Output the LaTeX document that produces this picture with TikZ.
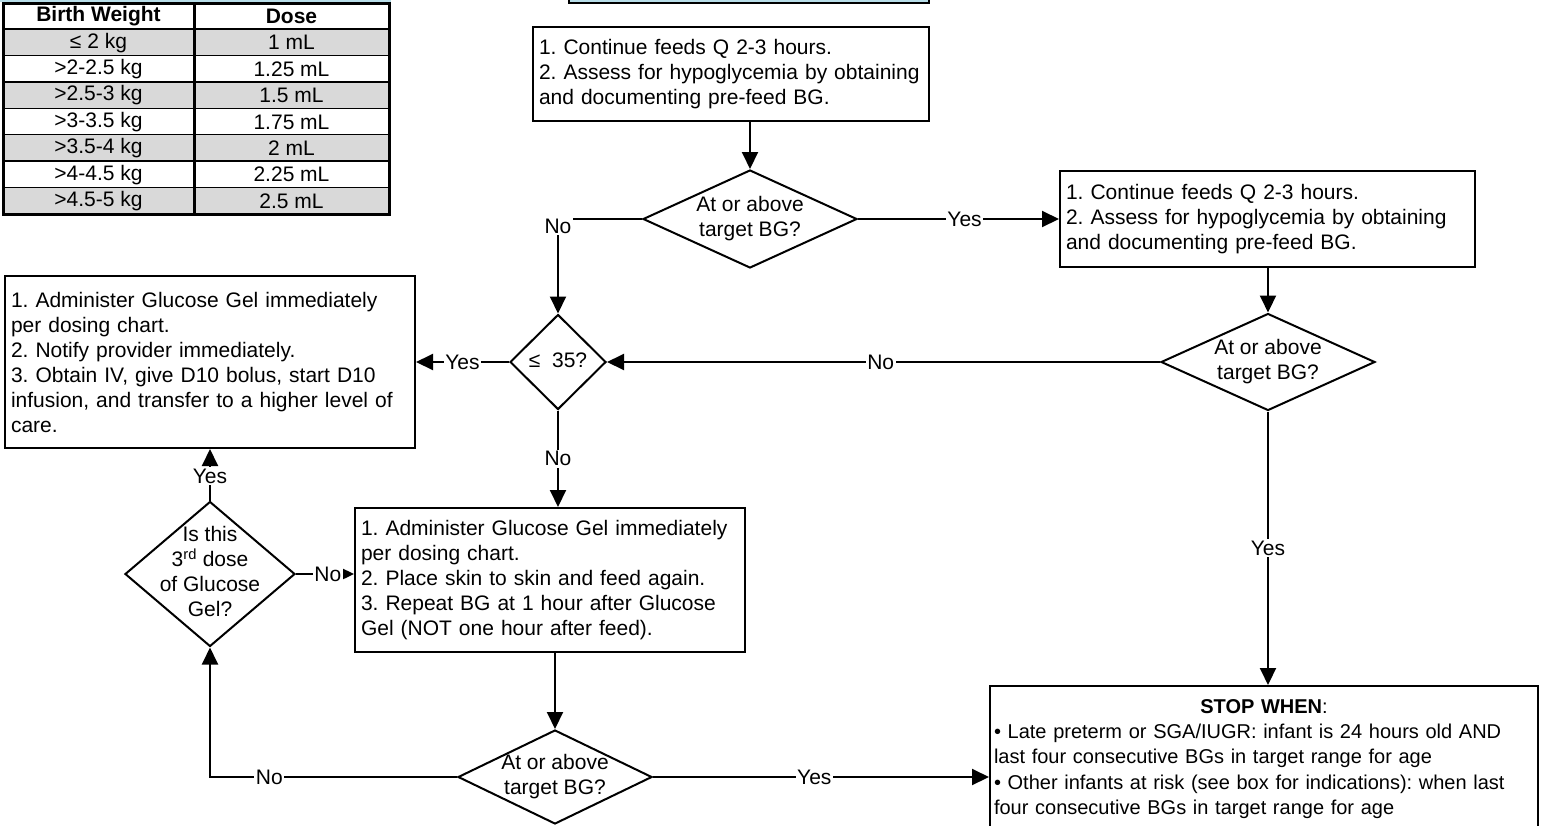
\documentclass[tikz,border=0pt]{standalone}
\usepackage{fontspec}
\setmainfont{Liberation Sans}
\usepackage{tikz}
\usetikzlibrary{arrows.meta,shapes.geometric}

\definecolor{rowgray}{RGB}{217,217,217}
\definecolor{capblue}{RGB}{183,221,232}

% testo centrato di ampiezza nulla dentro i rombi
\newcommand{\dtext}[1]{\vbox to 0pt{\vss\hbox to 0pt{\hss\begin{tabular}{@{}c@{}}#1\end{tabular}\hss}\vss}}

\begin{document}
\frenchspacing
\hyphenpenalty=10000
\begin{tikzpicture}[x=1pt,y=-1pt,font=\fontsize{21}{25}\selectfont,
  box/.style={draw,line width=2pt,align=left,inner xsep=6pt,inner ysep=0pt},
  dia/.style={draw,diamond,line width=2pt,inner sep=0pt},
  arr/.style={line width=2pt,-{Triangle[length=17pt,width=16pt]}},
  lbl/.style={fill=white,inner sep=1.5pt}]
  \useasboundingbox (0,0) rectangle (1541,825);
  \clip (0,0) rectangle (1541,825);
  % riquadri tagliati in alto
  \fill[capblue] (0,-20) rectangle (391,2);
  \draw[fill=capblue,line width=2pt] (569,-40) rectangle (929,3);
  % tabella dosi
  \fill[white] (3,3) rectangle (389,214);
  \foreach \wt/\ds [count=\i] in {≤ 2 kg/1 mL, >2-2.5 kg/1.25 mL, >2.5-3 kg/1.5 mL, >3-3.5 kg/1.75 mL, >3.5-4 kg/2 mL, >4-4.5 kg/2.25 mL, >4.5-5 kg/2.5 mL}
  {
    \pgfmathsetmacro\yt{29+(\i-1)*26.43}
    \ifodd\i \fill[rowgray] (3,\yt) rectangle (389,\yt+26.43); \fi
    \draw[line width=1.5pt] (3,\yt) -- (389,\yt);
    \node (wt\i) at (98.5,\yt+13.6) {\wt};
    \node (ds\i) at (291.5,\yt+13.6) {\ds};
  }
  \node (hwt) at (98.5,16.5) {\textbf{Birth Weight}};
  \node (hds) at (291.5,16.5) {\textbf{Dose}};
  \draw[line width=3pt] (194,3) -- (194,214);
  \draw[line width=3pt] (3,3) rectangle (389,214);
  % riquadri
  \node[box,text width=384pt,minimum height=94pt] (cont1) at (731,74)
    {1. Continue feeds Q 2-3 hours.\\2. Assess for hypoglycemia by obtaining\\and documenting pre-feed BG.};
  \node[box,text width=403pt,minimum height=96pt] (cont2) at (1267.5,219)
    {1. Continue feeds Q 2-3 hours.\\2. Assess for hypoglycemia by obtaining\\and documenting pre-feed BG.};
  \node[box,text width=398pt,minimum height=172pt] (iv) at (210,362)
    {1. Administer Glucose Gel immediately\\per dosing chart.\\2. Notify provider immediately.\\3. Obtain IV, give D10 bolus, start D10\\infusion, and transfer to a higher level of\\care.};
  \node[box,text width=378pt,minimum height=144pt] (gel) at (550,580)
    {1. Administer Glucose Gel immediately\\per dosing chart.\\2. Place skin to skin and feed again.\\3. Repeat BG at 1 hour after Glucose\\Gel (NOT one hour after feed).};
  \node[box,inner xsep=4pt,text width=540pt,minimum height=146pt,font=\fontsize{20}{25.2}\selectfont] (stop) at (1264,759)
    {\makebox[\hsize]{\textbf{STOP WHEN}:}\\• Late preterm or SGA/IUGR: infant is 24 hours old AND\\last four consecutive BGs in target range for age\\• Other infants at risk (see box for indications): when last\\four consecutive BGs in target range for age};
  % rombi
  \node[dia,minimum width=214pt,minimum height=98pt] (q1) at (750,219) {\dtext{At or above\\target BG?}};
  \node[dia,minimum width=96pt,minimum height=95pt] (q2) at (558,362) {\dtext{≤\ \ 35?}};
  \node[dia,minimum width=214pt,minimum height=97pt] (q3) at (1268,362) {\dtext{At or above\\target BG?}};
  \node[dia,minimum width=194pt,minimum height=94pt] (q4) at (555,777) {\dtext{At or above\\target BG?}};
  \node[dia,minimum width=170pt,minimum height=145pt] (q5) at (210,574) {\dtext{Is this\\3\textsuperscript{rd} dose\\of Glucose\\Gel?}};
  % frecce
  \draw[arr] (cont1.south -| q1.north) -- (q1.north);
  \draw[arr] (q1.east) -- node[lbl,pos=0.53] {Yes} (q1.east -| cont2.west);
  \draw[arr] (q1.west) -| node[lbl,pos=0.5,yshift=-7pt] {No} (q2.north);
  \draw[arr] (cont2.south -| q3.north) -- (q3.north);
  \draw[arr] (q3.west) -- node[lbl,pos=0.505] {No} (q2.east);
  \draw[arr] (q3.south) -- node[lbl,pos=0.5] {Yes} (q3.south |- stop.north);
  \draw[arr] (q2.west) -- node[lbl] {Yes} (q2.west -| iv.east);
  \draw[arr] (q2.south) -- node[lbl] {No} (q2.south |- gel.north);
  \draw[arr] (gel.south -| q4.north) -- (q4.north);
  \draw[arr] (q4.east) -- node[lbl,pos=0.48] {Yes} (q4.east -| stop.west);
  \draw[arr] (q4.west) -| node[lbl,pos=0.38] {No} (q5.south);
  \draw[arr] (q5.east) -- node[lbl,pos=0.55] {No} (q5.east -| gel.west);
  \draw[arr] (q5.north) -- node[lbl,pos=0.47] {Yes} (q5.north |- iv.south);
\end{tikzpicture}
\end{document}
